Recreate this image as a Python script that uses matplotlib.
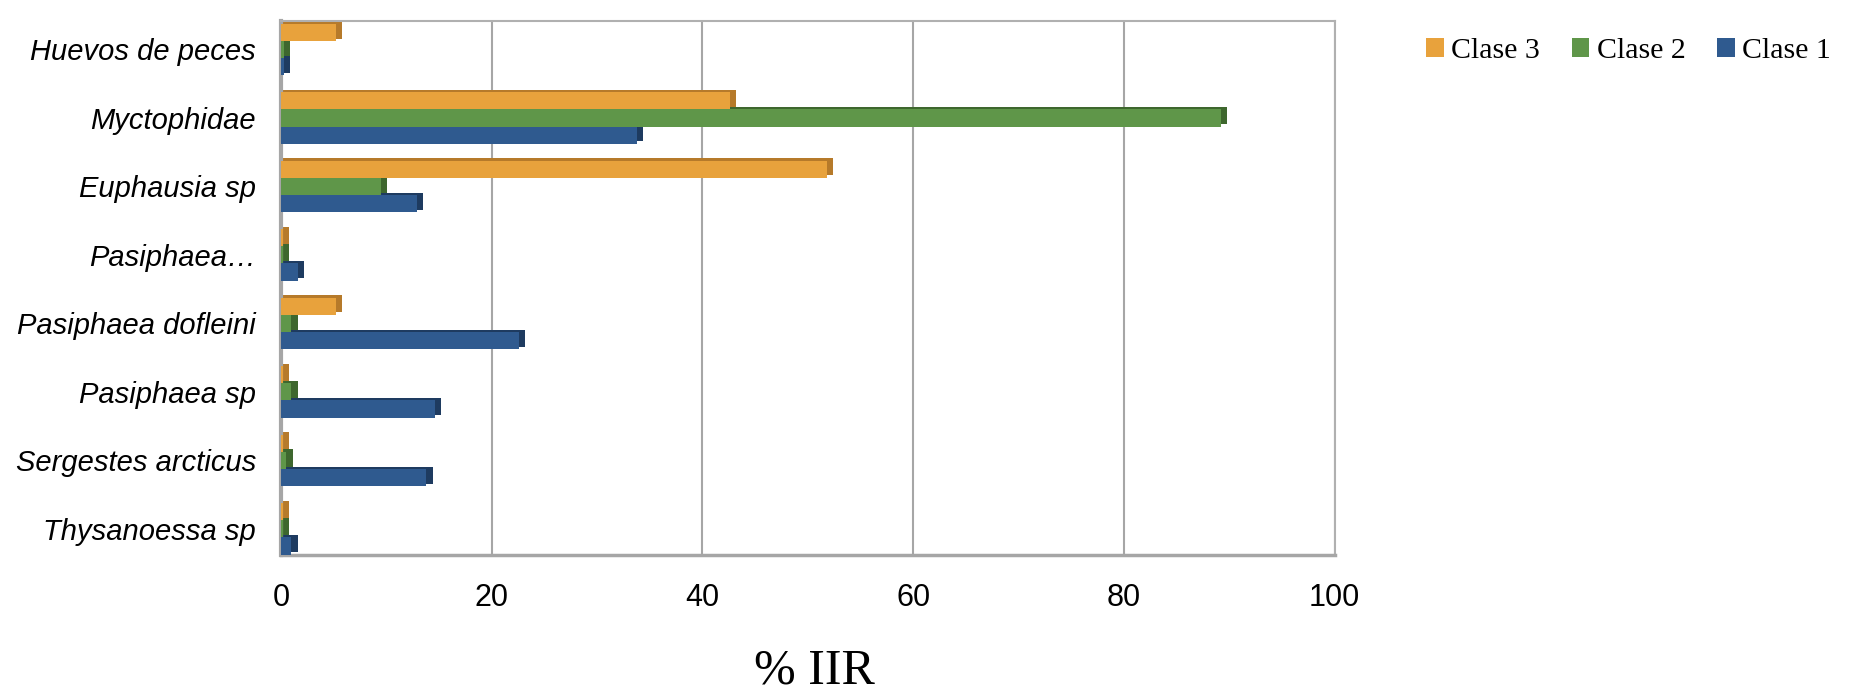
"""Horizontal bar chart of %IIR by prey item and size class
"""

import numpy as np
import matplotlib.pyplot as plt
from matplotlib.patches import Patch

# Data (top to bottom as in the figure)
categories = [
    "Huevos de peces",
    "Myctophidae",
    "Euphausia sp",
    "Pasiphaea…",
    "Pasiphaea dofleini",
    "Pasiphaea sp",
    "Sergestes arcticus",
    "Thysanoessa sp",
]
clase3 = [5.2, 42.6, 51.8, 0.2, 5.2, 0.2, 0.2, 0.2]
clase2 = [0.3, 89.2, 9.5, 0.2, 1.0, 1.0, 0.5, 0.2]
clase1 = [0.3, 33.8, 12.9, 1.6, 22.6, 14.6, 13.8, 1.0]
series = [("Clase 3", clase3), ("Clase 2", clase2), ("Clase 1", clase1)]

colors = {"Clase 3": "#E8A23C", "Clase 2": "#5F9649", "Clase 1": "#2F5A8F"}
shades = {"Clase 3": "#B67A2A", "Clase 2": "#3E672E", "Clase 1": "#1E3B60"}

if __name__ == "__main__":
    fig = plt.figure(figsize=(18.52, 6.91), dpi=100)
    ax = fig.add_axes([0.1517, 0.197, 0.569, 0.773])

    n = len(categories)
    y = np.arange(n)[::-1]
    h = 0.25
    offsets = {"Clase 3": h, "Clase 2": 0.0, "Clase 1": -h}

    for label, vals in series:
        yy = y + offsets[label]
        # fake 3D side: darker bar slightly shifted behind
        ax.barh(yy + 0.035, np.array(vals) + 0.6, height=h, color=shades[label],
                zorder=2, linewidth=0)
        ax.barh(yy, vals, height=h, color=colors[label], zorder=3,
                linewidth=0, label=label)

    ax.set_xlim(0, 100)
    ax.set_ylim(-0.38, n - 1 + 0.42)
    ax.set_xticks(np.arange(0, 101, 20))
    ax.set_yticks(y)
    ax.set_yticklabels(categories, fontstyle="italic", family="Liberation Sans",
                       fontsize=21)
    ax.tick_params(axis="x", length=0, pad=20, labelsize=22)
    ax.tick_params(axis="y", length=0, pad=18)
    for t in ax.get_xticklabels():
        t.set_family("Liberation Sans")

    ax.grid(axis="x", color="#A6A6A6", linewidth=1.5, zorder=0)
    ax.set_axisbelow(True)
    for side in ["top", "right"]:
        ax.spines[side].set_color("#B0B0B0")
        ax.spines[side].set_linewidth(1.5)
    ax.spines["left"].set_color("#A6A6A6")
    ax.spines["left"].set_linewidth(3)
    ax.spines["bottom"].set_color("#A6A6A6")
    ax.spines["bottom"].set_linewidth(2.5)

    fig.text(0.44, -0.005, "% IIR", family="Liberation Serif", fontsize=36,
             ha="center", va="bottom")

    handles = [Patch(facecolor=colors[k], edgecolor="none", label=k)
               for k, _ in series]
    fig.legend(handles=handles, loc="center left", bbox_to_anchor=(0.77, 0.926),
               ncol=3, frameon=False, prop={"family": "Liberation Serif", "size": 21.5},
               handlelength=0.6, handleheight=0.6, handletextpad=0.25,
               columnspacing=1.05, borderaxespad=0, borderpad=0)

    plt.savefig("out.png", dpi=100)
